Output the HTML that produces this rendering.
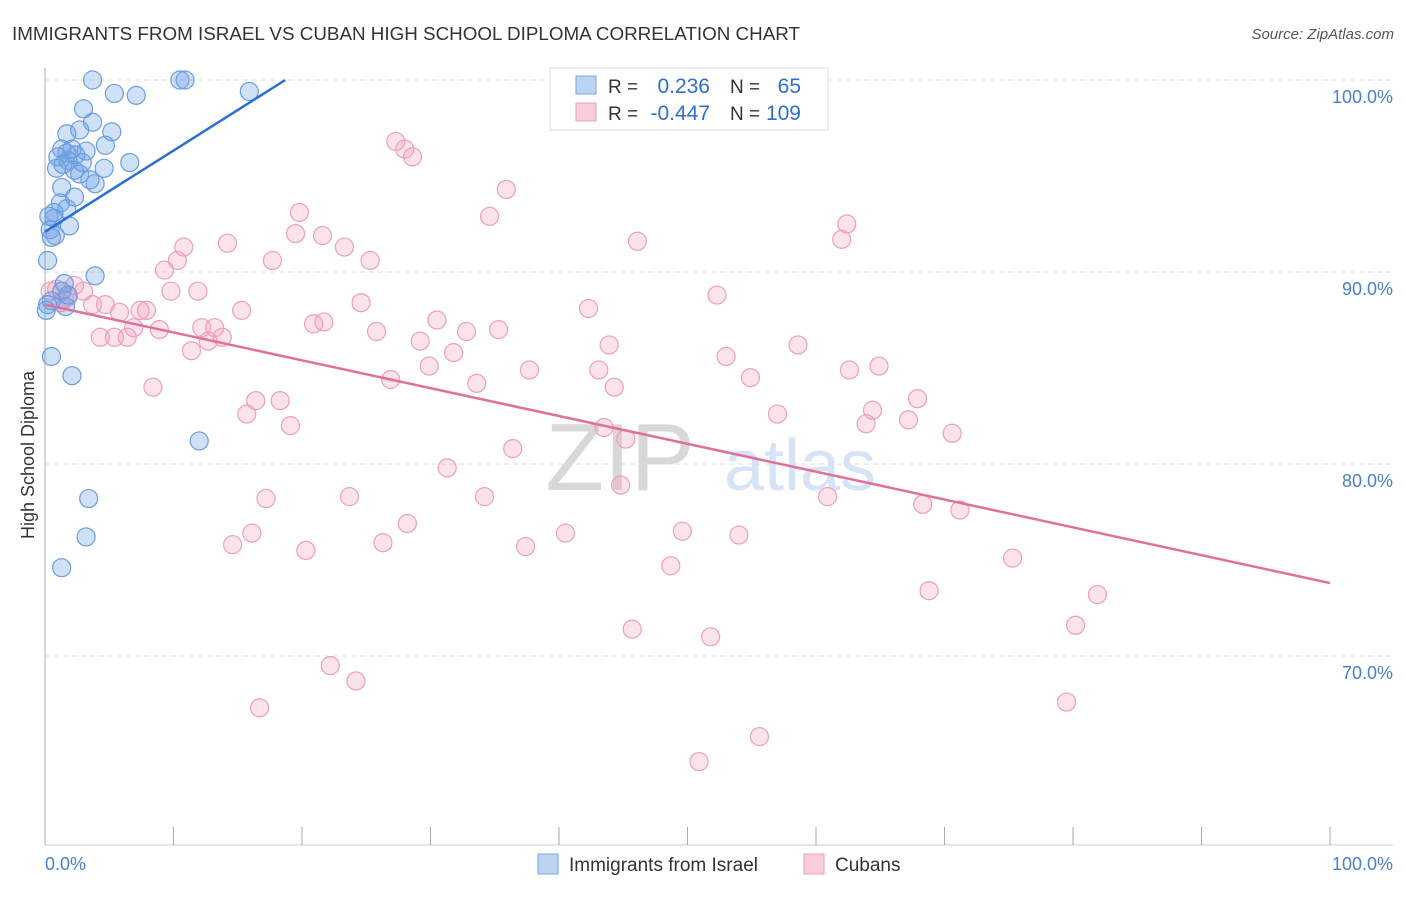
<!DOCTYPE html>
<html><head><meta charset="utf-8"><style>
body{margin:0;background:#fff;font-family:"Liberation Sans",sans-serif}
svg text{font-family:"Liberation Sans",sans-serif}
</style></head><body>
<svg id="c" width="1406" height="892" xmlns="http://www.w3.org/2000/svg">
<text x="12" y="40" font-size="18" fill="#333" textLength="788" lengthAdjust="spacingAndGlyphs">IMMIGRANTS FROM ISRAEL VS CUBAN HIGH SCHOOL DIPLOMA CORRELATION CHART</text>
<text x="1394" y="39" font-size="15" fill="#555" text-anchor="end" font-style="italic">Source: ZipAtlas.com</text>
<text x="620" y="490" font-size="96" fill="#d8d8d8" font-family="Liberation Serif" text-anchor="middle">ZIP</text>
<text x="800" y="490" font-size="72" fill="#d6e4f5" text-anchor="middle">atlas</text>
<g id="grid"></g><g id="pts"></g><g id="lines"></g>
<text transform="translate(34,455) rotate(-90)" font-size="18" fill="#333" text-anchor="middle">High School Diploma</text>
<text x="45" y="870" font-size="18" fill="#4a7fd0">0.0%</text>
<text x="1393" y="870" font-size="18" fill="#4a7fd0" text-anchor="end">100.0%</text>
<g>
<rect x="550" y="68" width="278" height="62" fill="#fff" stroke="#ddd"/>
<rect x="576" y="76" width="20" height="18" fill="#bcd4f4" stroke="#7aa6e0"/>
<rect x="576" y="103" width="20" height="18" fill="#f9ccdb" stroke="#eba0ba"/>
<text x="608" y="93" font-size="19" fill="#333">R =</text>
<text x="710" y="93" font-size="21" fill="#2f6fd0" text-anchor="end">0.236</text>
<text x="730" y="93" font-size="19" fill="#333">N =</text>
<text x="801" y="93" font-size="21" fill="#2f6fd0" text-anchor="end">65</text>
<text x="608" y="120" font-size="19" fill="#333">R =</text>
<text x="710" y="120" font-size="21" fill="#2f6fd0" text-anchor="end">-0.447</text>
<text x="730" y="120" font-size="19" fill="#333">N =</text>
<text x="801" y="120" font-size="21" fill="#2f6fd0" text-anchor="end">109</text>
</g>
<g>
<rect x="538" y="854" width="20" height="20" fill="#bcd4f4" stroke="#7aa6e0"/>
<text x="569" y="871" font-size="19" fill="#333">Immigrants from Israel</text>
<rect x="804" y="854" width="20" height="20" fill="#f9ccdb" stroke="#eba0ba"/>
<text x="835" y="871" font-size="19" fill="#333">Cubans</text>
</g>
</svg>
<script>
const yTicks=[100,90,80,70];
const blueX=[3.7,10.5,10.9,5.4,7.1,15.9,3.0,2.7,3.7,5.2,1.7,4.7,1.3,2.1,3.2,1.0,1.7,2.4,1.8,1.4,2.9,6.6,0.9,4.6,2.3,2.7,3.5,3.9,1.3,2.3,1.2,1.7,0.7,0.3,0.7,1.9,0.4,0.8,0.5,0.2,3.9,1.5,1.3,1.8,0.5,0.2,1.6,0.1,0.5,2.1,12.0,3.4,3.2,1.3];
const blueY=[100,100,100,99.3,99.2,99.4,98.5,97.4,97.8,97.3,97.2,96.6,96.4,96.4,96.3,96.0,96.2,96.1,95.8,95.6,95.7,95.7,95.4,95.4,95.3,95.1,94.8,94.6,94.4,93.9,93.6,93.3,93.1,92.9,92.8,92.4,92.2,91.9,91.8,90.6,89.8,89.4,89.0,88.8,88.5,88.3,88.2,88.0,85.6,84.6,81.2,78.2,76.2,74.6];
const pinkX=[0.4,0.9,1.2,1.5,1.8,2.3,3.0,3.7,4.3,4.7,5.4,5.8,6.4,6.9,7.4,7.9,8.4,8.9,9.3,9.8,10.3,10.8,11.4,11.9,12.2,12.7,13.2,13.8,14.2,14.6,15.3,15.7,16.1,16.4,16.7,17.2,17.7,18.3,19.1,19.5,19.8,20.3,20.9,21.6,21.7,22.2,23.3,23.7,24.2,24.6,25.3,25.8,26.3,26.9,27.3,28.0,28.2,28.6,29.2,29.9,30.5,31.3,31.8,32.8,33.6,34.2,34.6,35.3,35.9,36.4,37.4,37.7,40.5,42.3,43.1,43.5,43.9,44.3,44.8,45.2,45.7,46.1,48.7,49.6,51.8,52.3,53.0,54.0,54.9,55.6,57.0,58.6,60.9,62.0,62.4,62.6,63.9,64.4,64.9,67.2,67.9,68.3,68.8,70.6,71.2,75.3,79.5,80.2,81.9,50.9];
const pinkY=[89.0,89.1,88.4,88.6,88.7,89.3,89.0,88.3,86.6,88.3,86.6,87.9,86.6,87.1,88.0,88.0,84.0,87.0,90.1,89.0,90.6,91.3,85.9,89.0,87.1,86.4,87.1,86.6,91.5,75.8,88.0,82.6,76.4,83.3,67.3,78.2,90.6,83.3,82.0,92.0,93.1,75.5,87.3,91.9,87.4,69.5,91.3,78.3,68.7,88.4,90.6,86.9,75.9,84.4,96.8,96.4,76.9,96.0,86.4,85.1,87.5,79.8,85.8,86.9,84.2,78.3,92.9,87.0,94.3,80.8,75.7,84.9,76.4,88.1,84.9,81.9,86.2,84.0,78.9,81.3,71.4,91.6,74.7,76.5,71.0,88.8,85.6,76.3,84.5,65.8,82.6,86.2,78.3,91.7,92.5,84.9,82.1,82.8,85.1,82.3,83.4,77.9,73.4,81.6,77.6,75.1,67.6,71.6,73.2,64.5];
const blueTrend=[0,92.1,18.7,100];
const pinkTrend=[0,88.3,100,73.8];
const ns="http://www.w3.org/2000/svg";
const X=v=>45+v*12.85, Y=v=>80+(100-v)*19.2;
function mk(t,a,p){const e=document.createElementNS(ns,t);for(const k in a)e.setAttribute(k,a[k]);p.appendChild(e);return e;}
const g=document.getElementById('grid');
yTicks.forEach(t=>{
 const l=mk('line',{x1:45,x2:1393,y1:Y(t),y2:Y(t),stroke:'#ddd','stroke-dasharray':'5,4'},g);
 
 
 const tx=mk('text',{x:1393,y:Y(t)+23,'font-size':18,fill:'#4a7fd0','text-anchor':'end'},g);
 tx.textContent=t.toFixed(1)+'%';
 
 
});
mk('line',{x1:45,x2:45,y1:68,y2:845,stroke:'#aaa'},g);
mk('line',{x1:45,x2:1393,y1:845,y2:845,stroke:'#ccc'},g);
for(let i=0;i<=10;i++){const l=mk('line',{x1:X(i*10),x2:X(i*10),y1:827,y2:845,stroke:'#aaa'},g);
 
 }
const p=document.getElementById('pts');
pinkX.forEach((x,i)=>{const c=mk('circle',{cx:X(x),cy:Y(pinkY[i]),r:9,fill:'rgba(244,160,190,0.3)',stroke:'#eba0ba','stroke-width':1.2},p);
 
 });
blueX.forEach((x,i)=>{const c=mk('circle',{cx:X(x),cy:Y(blueY[i]),r:9,fill:'rgba(110,160,230,0.32)',stroke:'#6a9ee0','stroke-width':1.2},p);
 
 });
const L=document.getElementById('lines');
const bl=mk('line',{x1:X(blueTrend[0]),y1:Y(blueTrend[1]),x2:X(blueTrend[2]),y2:Y(blueTrend[3]),stroke:'#2a6fd6','stroke-width':2.5},L);


const pl=mk('line',{x1:X(pinkTrend[0]),y1:Y(pinkTrend[1]),x2:X(pinkTrend[2]),y2:Y(pinkTrend[3]),stroke:'#e0709a','stroke-width':2.5},L);


</script>
</body></html>
